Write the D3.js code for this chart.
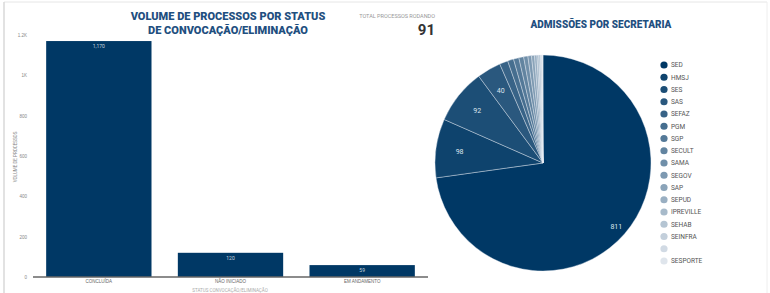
<!DOCTYPE html>
<html>
<head>
<meta charset="utf-8">
<script src="https://cdn.jsdelivr.net/npm/d3@7"></script>
<style>
  body { margin: 0; background: #fff; }
  svg { display: block; font-family: Roboto, "Noto Sans", sans-serif; }
</style>
</head>
<body>
<svg id="chart" width="770" height="293"></svg>
<script>
// ---> Data
const statusCategories = ["CONCLUÍDA", "NÃO INICIADO", "EM ANDAMENTO"];
const statusValues = [1170, 120, 59];
const yTicks = [0, 200, 400, 600, 800, 1000, 1200];
const totalRodando = 91;

const secretarias = ["SED", "HMSJ", "SES", "SAS", "SEFAZ", "PGM", "SGP", "SECULT", "SAMA",
  "SEGOV", "SAP", "SEPUD", "IPREVILLE", "SEHAB", "SEINFRA", "", "SESPORTE"];
const admissoes = [811, 98, 92, 40, 14, 10, 9, 8, 7, 6, 5, 4, 3, 3, 2, 1, 1];

const navy = "#003865";
const titleColor = "#1f4f7f";

const svg = d3.select("#chart");

// frame lines
svg.append("line").attr("x1", 4).attr("x2", 767).attr("y1", 2).attr("y2", 2)
  .attr("stroke", "#e6e6e6").attr("stroke-width", 1);
svg.append("line").attr("x1", 4).attr("x2", 4).attr("y1", 2).attr("y2", 293)
  .attr("stroke", "#d9d9d9").attr("stroke-width", 1.5);
svg.append("line").attr("x1", 767).attr("x2", 767).attr("y1", 2).attr("y2", 293)
  .attr("stroke", "#eeeeee").attr("stroke-width", 1);

// ---> Bar chart
const x = d3.scaleBand().domain(statusCategories).range([33, 428]).paddingInner(0.2).paddingOuter(0.1);
const y = d3.scaleLinear().domain([0, 1200]).range([277, 35]);

const barG = svg.append("g");

const yAxis = d3.axisLeft(y).tickValues(yTicks).tickSize(0).tickPadding(6)
  .tickFormat(d => d >= 1000 ? d3.format(".2~")(d / 1000) + "K" : d);
barG.append("g").attr("transform", "translate(33,0)").call(yAxis)
  .call(g => g.select(".domain").remove())
  .call(g => g.selectAll("text").attr("fill", "#888").attr("font-size", 4.5));

barG.selectAll("rect.bar")
  .data(statusValues)
  .enter()
  .append("rect")
  .attr("class", "bar")
  .attr("x", (d, i) => x(statusCategories[i]))
  .attr("width", x.bandwidth())
  .attr("y", d => y(d))
  .attr("height", d => y(0) - y(d))
  .attr("fill", navy);

barG.selectAll("text.barlabel")
  .data(statusValues)
  .enter()
  .append("text")
  .attr("class", "barlabel")
  .attr("x", (d, i) => x(statusCategories[i]) + x.bandwidth() / 2)
  .attr("y", d => y(d) + 7)
  .attr("text-anchor", "middle")
  .attr("fill", "#c8d3de")
  .attr("font-size", 5)
  .text(d => d3.format(",")(d));

const xAxis = d3.axisBottom(x).tickSize(0).tickPadding(3);
barG.append("g").attr("transform", "translate(0,277)").call(xAxis)
  .call(g => g.select(".domain").attr("stroke", "#666").attr("stroke-width", 1.5).attr("d", "M0,0H395").attr("transform", "translate(33,0)"))
  .call(g => g.selectAll("text").attr("fill", "#666").attr("font-size", 4.5));

barG.append("text")
  .attr("x", 230).attr("y", 292)
  .attr("text-anchor", "middle").attr("fill", "#aaa").attr("font-size", 4.5)
  .text("STATUS CONVOCAÇÃO/ELIMINAÇÃO");

barG.append("text")
  .attr("transform", "translate(17,157) rotate(-90)")
  .attr("text-anchor", "middle").attr("fill", "#888").attr("font-size", 4.5)
  .text("VOLUME DE PROCESSOS");

// titles
svg.append("text").attr("x", 228).attr("y", 20).attr("text-anchor", "middle")
  .attr("fill", titleColor).attr("font-size", 11).attr("font-weight", 900)
  .text("VOLUME DE PROCESSOS POR STATUS");
svg.append("text").attr("x", 228).attr("y", 34).attr("text-anchor", "middle")
  .attr("fill", titleColor).attr("font-size", 11).attr("font-weight", 900)
  .text("DE CONVOCAÇÃO/ELIMINAÇÃO");

svg.append("text").attr("x", 435).attr("y", 18).attr("text-anchor", "end")
  .attr("fill", "#999").attr("font-size", 5.5)
  .text("TOTAL PROCESSOS RODANDO");
svg.append("text").attr("x", 435).attr("y", 35).attr("text-anchor", "end")
  .attr("fill", "#333").attr("font-size", 15).attr("font-weight", "bold")
  .text(totalRodando);

// ---> Pie chart
const color = d3.scaleLinear()
  .domain([0, secretarias.length - 1])
  .range([navy, "#dfe5ec"])
  .interpolate(d3.interpolateRgb);

svg.append("text").attr("x", 601).attr("y", 28).attr("text-anchor", "middle")
  .attr("fill", titleColor).attr("font-size", 10).attr("font-weight", 900)
  .text("ADMISSÕES POR SECRETARIA");

const pie = d3.pie().sort(null).value(d => d);
const arcs = pie(admissoes);
const radius = 108;
const arc = d3.arc().innerRadius(0).outerRadius(radius);
const labelArc = d3.arc().innerRadius(radius * 0.78).outerRadius(radius * 0.78);

const pieG = svg.append("g").attr("transform", "translate(543,163)");
pieG.selectAll("path")
  .data(arcs)
  .enter()
  .append("path")
  .attr("d", arc)
  .attr("fill", (d, i) => color(i))
  .attr("stroke", "#e8eef4")
  .attr("stroke-width", 0.4);

pieG.selectAll("text")
  .data(arcs.filter(d => d.value >= 40))
  .enter()
  .append("text")
  .attr("transform", d => {
    const c = d.value > 500 ? d3.arc().innerRadius(radius * 0.9).outerRadius(radius * 0.9).centroid(d) : labelArc.centroid(d);
    return "translate(" + c + ")";
  })
  .attr("dy", "0.35em")
  .attr("text-anchor", "middle")
  .attr("fill", "#dfe6ee")
  .attr("font-size", 7)
  .text(d => d.value);

// legend
const legend = svg.append("g").attr("transform", "translate(664,65)");
const item = legend.selectAll("g")
  .data(secretarias)
  .enter()
  .append("g")
  .attr("transform", (d, i) => "translate(0," + (i * 12.25) + ")");
item.append("circle").attr("r", 3.6).attr("fill", (d, i) => color(i));
item.append("text").attr("x", 7).attr("dy", "0.35em")
  .attr("fill", "#555").attr("font-size", 6.5)
  .text(d => d);
</script>
</body>
</html>
